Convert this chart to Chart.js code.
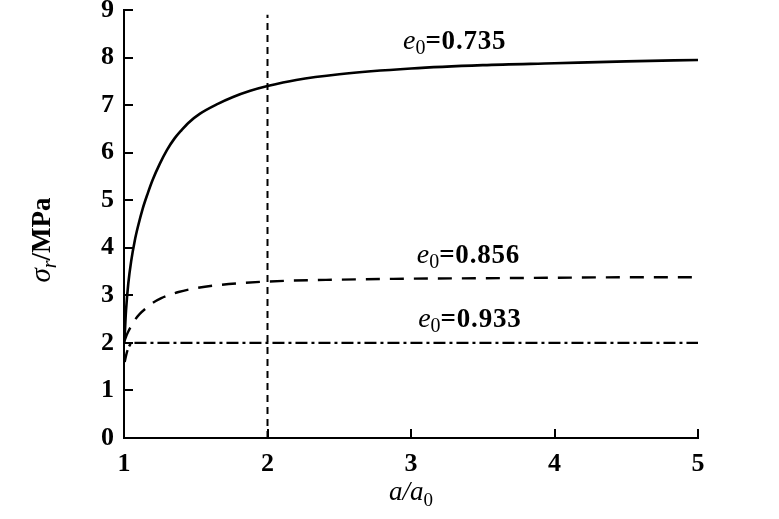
<!DOCTYPE html>
<html>
<head>
<meta charset="utf-8">
<script src="https://cdn.jsdelivr.net/npm/chart.js@4.4.1/dist/chart.umd.min.js"></script>
<style>
  html, body { margin: 0; padding: 0; background: #fff; }
  #c { display: block; }
</style>
</head>
<body>
<canvas id="c" width="779" height="519"></canvas>
<script>
// ---- Data ----
const xTicks = [1, 2, 3, 4, 5];
const yTicks = [0, 1, 2, 3, 4, 5, 6, 7, 8, 9];

// e0 = 0.735 (solid)
const x735 = [1.003, 1.007, 1.014, 1.03, 1.05, 1.075, 1.10, 1.13, 1.165, 1.20, 1.25, 1.30, 1.35, 1.40, 1.45, 1.53, 1.65, 1.76, 1.88, 2.0, 2.2, 2.5, 3.0, 3.5, 4.0, 4.5, 5.0];
const y735 = [2.0, 2.28, 2.68, 3.25, 3.72, 4.15, 4.48, 4.82, 5.14, 5.43, 5.77, 6.06, 6.29, 6.47, 6.63, 6.82, 7.02, 7.17, 7.30, 7.40, 7.53, 7.65, 7.77, 7.84, 7.88, 7.92, 7.95];

// e0 = 0.856 (dashed)
const x856 = [1.005, 1.014, 1.03, 1.053, 1.08, 1.11, 1.15, 1.2, 1.26, 1.31, 1.38, 1.5, 1.67, 2.0, 2.5, 3.0, 3.5, 4.0, 4.5, 5.0];
const y856 = [2.05, 2.13, 2.24, 2.37, 2.50, 2.61, 2.72, 2.84, 2.94, 3.0, 3.07, 3.15, 3.22, 3.29, 3.33, 3.35, 3.36, 3.37, 3.38, 3.38];

// e0 = 0.933 (dash-dot)
const x933 = [1.005, 1.02, 1.04, 1.07, 1.5, 2.0, 3.0, 4.0, 5.0];
const y933 = [1.6, 1.8, 1.95, 2.0, 2.0, 2.0, 2.0, 2.0, 2.0];

// vertical reference line at a/a0 = 2
const xRef = [2, 2];
const yRef = [0, 8.9];

const seriesLabels = ['0.735', '0.856', '0.933'];
// label anchor values (data coords, left/baseline) for the curve annotations
const labelX = [2.944, 3.04, 3.05];
const labelY = [8.18, 3.69, 2.33];

const toPts = (xs, ys) => xs.map((x, i) => ({ x: x, y: ys[i] }));

const SERIF = '"Liberation Serif", "Times New Roman", serif';

function drawRich(ctx, parts, x, y, align) {
  let total = 0;
  parts.forEach(p => {
    ctx.font = p.font;
    ctx.letterSpacing = p.ls || '0px';
    p.w = ctx.measureText(p.text).width;
    total += p.w;
  });
  let cx = align === 'center' ? x - total / 2 : x;
  parts.forEach(p => {
    ctx.font = p.font;
    ctx.letterSpacing = p.ls || '0px';
    ctx.fillText(p.text, cx, y + (p.dy || 0));
    cx += p.w;
  });
  ctx.letterSpacing = '0px';
}

const overlay = {
  id: 'overlay',
  afterDraw(chart) {
    const ctx = chart.ctx;
    const xs = chart.scales.x, ys = chart.scales.y;
    const area = chart.chartArea;
    ctx.save();
    ctx.strokeStyle = '#000';
    ctx.fillStyle = '#000';
    ctx.lineWidth = 2;
    // inward ticks
    yTicks.forEach(v => {
      if (v === 0) return;
      const py = Math.round(ys.getPixelForValue(v));
      ctx.beginPath(); ctx.moveTo(area.left, py); ctx.lineTo(area.left + 9, py); ctx.stroke();
    });
    xTicks.forEach(v => {
      if (v === 1) return;
      const px = Math.round(xs.getPixelForValue(v));
      ctx.beginPath(); ctx.moveTo(px, area.bottom); ctx.lineTo(px, area.bottom - 9); ctx.stroke();
    });

    ctx.textBaseline = 'alphabetic';
    // curve labels
    seriesLabels.forEach((s, i) => {
      const px = xs.getPixelForValue(labelX[i]);
      const py = ys.getPixelForValue(labelY[i]);
      drawRich(ctx, [
        { text: 'e', font: 'italic 28px ' + SERIF },
        { text: '0', font: '20px ' + SERIF, dy: 5 },
        { text: '=' + s, font: 'bold 27px ' + SERIF, ls: '0.8px' }
      ], px, py, 'left');
    });

    // x-axis title
    drawRich(ctx, [
      { text: 'a/a', font: 'italic 27px ' + SERIF },
      { text: '0', font: '19px ' + SERIF, dy: 6 }
    ], (area.left + area.right) / 2, 500, 'center');

    // y-axis title (rotated)
    ctx.translate(50, 240);
    ctx.rotate(-Math.PI / 2);
    drawRich(ctx, [
      { text: 'σ', font: 'italic 29px ' + SERIF },
      { text: 'r', font: 'italic 20px ' + SERIF, dy: 6 },
      { text: '/MPa', font: 'bold 27px ' + SERIF }
    ], 0, 0, 'center');
    ctx.restore();
  }
};

const noPad = s => { s.paddingTop = 0; s.paddingBottom = 0; s.paddingLeft = 0; s.paddingRight = 0; };

new Chart(document.getElementById('c'), {
  type: 'line',
  data: {
    datasets: [
      { label: 'e0=0.735', data: toPts(x735, y735), borderColor: '#000', borderWidth: 2.6, pointRadius: 0, cubicInterpolationMode: 'monotone', fill: false },
      { label: 'e0=0.856', data: toPts(x856, y856), borderColor: '#000', borderWidth: 2.4, borderDash: [14, 10], pointRadius: 0, cubicInterpolationMode: 'monotone', fill: false },
      { label: 'e0=0.933', data: toPts(x933, y933), borderColor: '#000', borderWidth: 2.4, borderDash: [12, 4, 3, 4], pointRadius: 0, cubicInterpolationMode: 'monotone', fill: false },
      { label: 'ref', data: toPts(xRef, yRef), borderColor: '#000', borderWidth: 2, borderDash: [7, 5], pointRadius: 0, fill: false }
    ]
  },
  options: {
    responsive: false,
    animation: false,
    layout: { padding: { top: 10, right: 81, left: 0, bottom: 0 } },
    plugins: { legend: { display: false }, tooltip: { enabled: false } },
    scales: {
      x: {
        type: 'linear', min: 1, max: 5,
        afterBuildTicks: s => { s.ticks = xTicks.map(v => ({ value: v })); },
        afterFit: s => { s.height = 81; noPad(s); },
        grid: { display: false, drawTicks: false },
        border: { display: true, color: '#000', width: 2 },
        ticks: { color: '#000', padding: 11, font: { family: SERIF, size: 26, weight: 'bold' } }
      },
      y: {
        type: 'linear', min: 0, max: 9,
        afterBuildTicks: s => { s.ticks = yTicks.map(v => ({ value: v })); },
        afterFit: s => { s.width = 124; noPad(s); },
        grid: { display: false, drawTicks: false },
        border: { display: true, color: '#000', width: 2 },
        ticks: { color: '#000', padding: 10, font: { family: SERIF, size: 26, weight: 'bold' } }
      }
    }
  },
  plugins: [overlay]
});
</script>
</body>
</html>
